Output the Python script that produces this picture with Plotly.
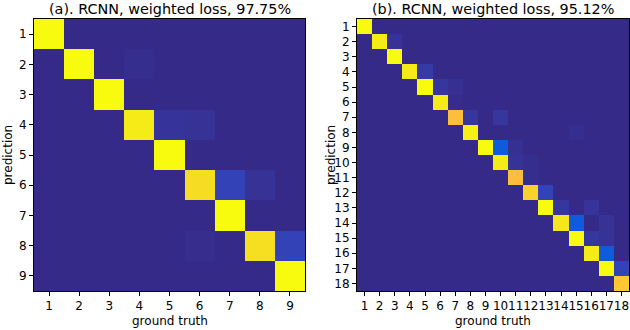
import plotly.graph_objects as go

# parula colormap (MATLAB's 64 levels)
PARULA = [
    [0.2081, 0.1663, 0.5292], [0.2116, 0.1898, 0.5777], [0.2123, 0.2138, 0.6270],
    [0.2081, 0.2386, 0.6771], [0.1959, 0.2645, 0.7279], [0.1707, 0.2919, 0.7792],
    [0.1253, 0.3242, 0.8303], [0.0591, 0.3598, 0.8683], [0.0117, 0.3875, 0.8820],
    [0.0060, 0.4086, 0.8828], [0.0165, 0.4266, 0.8786], [0.0329, 0.4430, 0.8720],
    [0.0498, 0.4586, 0.8641], [0.0629, 0.4737, 0.8554], [0.0723, 0.4887, 0.8467],
    [0.0779, 0.5040, 0.8384], [0.0793, 0.5200, 0.8312], [0.0749, 0.5375, 0.8263],
    [0.0641, 0.5570, 0.8240], [0.0488, 0.5772, 0.8228], [0.0343, 0.5966, 0.8199],
    [0.0265, 0.6137, 0.8135], [0.0239, 0.6287, 0.8038], [0.0231, 0.6418, 0.7913],
    [0.0228, 0.6535, 0.7768], [0.0267, 0.6642, 0.7607], [0.0384, 0.6743, 0.7436],
    [0.0590, 0.6838, 0.7254], [0.0843, 0.6928, 0.7062], [0.1133, 0.7015, 0.6859],
    [0.1453, 0.7098, 0.6646], [0.1801, 0.7177, 0.6424], [0.2178, 0.7250, 0.6193],
    [0.2586, 0.7317, 0.5954], [0.3022, 0.7376, 0.5712], [0.3482, 0.7424, 0.5473],
    [0.3953, 0.7459, 0.5244], [0.4420, 0.7481, 0.5033], [0.4871, 0.7491, 0.4840],
    [0.5300, 0.7491, 0.4661], [0.5709, 0.7485, 0.4494], [0.6099, 0.7473, 0.4337],
    [0.6473, 0.7456, 0.4188], [0.6834, 0.7435, 0.4044], [0.7184, 0.7411, 0.3905],
    [0.7525, 0.7384, 0.3768], [0.7858, 0.7356, 0.3633], [0.8185, 0.7327, 0.3498],
    [0.8507, 0.7299, 0.3360], [0.8824, 0.7274, 0.3217], [0.9139, 0.7258, 0.3063],
    [0.9450, 0.7261, 0.2886], [0.9739, 0.7314, 0.2666], [0.9938, 0.7455, 0.2403],
    [0.9990, 0.7653, 0.2164], [0.9955, 0.7861, 0.1967], [0.9880, 0.8066, 0.1794],
    [0.9789, 0.8271, 0.1633], [0.9697, 0.8481, 0.1475], [0.9626, 0.8705, 0.1309],
    [0.9589, 0.8949, 0.1132], [0.9598, 0.9218, 0.0948], [0.9661, 0.9514, 0.0755],
    [0.9763, 0.9831, 0.0538],
]
colorscale = [
    [i / (len(PARULA) - 1), "rgb(%d,%d,%d)" % tuple(round(c * 255) for c in rgb)]
    for i, rgb in enumerate(PARULA)
]

# (a) 9 classes: rows = prediction, cols = ground truth
labels_a = [str(i) for i in range(1, 10)]
cm_a = [
    [1.00, 0, 0, 0, 0, 0, 0, 0, 0],
    [0, 1.00, 0, 0.010, 0, 0, 0, 0, 0],
    [0, 0, 1.00, 0, 0, 0, 0, 0, 0],
    [0, 0, 0, 0.97, 0.025, 0.020, 0, 0, 0],
    [0, 0, 0, 0, 1.00, 0, 0, 0, 0],
    [0, 0, 0, 0, 0, 0.93, 0.060, 0.020, 0],
    [0, 0, 0, 0, 0, 0, 1.00, 0, 0],
    [0, 0, 0, 0, 0, 0.008, 0, 0.94, 0.060],
    [0, 0, 0, 0, 0, 0, 0, 0, 1.00],
]

# (b) 18 classes
labels_b = [str(i) for i in range(1, 19)]
diag_b = [1.0, 0.97, 1.0, 0.97, 1.0, 0.97, 0.84, 0.98, 1.0,
          0.97, 0.84, 0.90, 1.0, 0.96, 1.0, 0.97, 1.0, 0.87]
offdiag_b = {
    (2, 3): 0.02, (4, 5): 0.04, (5, 6): 0.03, (5, 7): 0.015, (6, 7): 0.005,
    (7, 8): 0.03, (7, 10): 0.03, (8, 15): 0.01, (9, 10): 0.11, (9, 11): 0.015,
    (10, 11): 0.02, (10, 12): 0.01, (11, 12): 0.01, (12, 13): 0.06,
    (13, 14): 0.03, (13, 16): 0.025, (14, 15): 0.11, (14, 17): 0.02,
    (15, 16): 0.03, (15, 17): 0.02, (16, 17): 0.11, (17, 18): 0.06,
}
cm_b = [[0.0] * 18 for _ in range(18)]
for i, v in enumerate(diag_b):
    cm_b[i][i] = v
for (r, c), v in offdiag_b.items():
    cm_b[r - 1][c - 1] = v

titles = ["(a). RCNN, weighted loss, 97.75%", "(b). RCNN, weighted loss, 95.12%"]

W, H = 630, 330
FONT = "DejaVu Sans"

fig = go.Figure()
fig.add_trace(go.Heatmap(z=cm_a, x=list(range(1, 10)), y=list(range(1, 10)),
                         colorscale=colorscale, zmin=0, zmax=1, showscale=False,
                         xaxis="x", yaxis="y"))
fig.add_trace(go.Heatmap(z=cm_b, x=list(range(1, 19)), y=list(range(1, 19)),
                         colorscale=colorscale, zmin=0, zmax=1, showscale=False,
                         xaxis="x2", yaxis="y2"))

axis_common = dict(
    showline=True, mirror=True, linecolor="black", linewidth=1,
    ticks="outside", ticklen=4, tickwidth=1, tickcolor="black",
    showgrid=False, zeroline=False, tickangle=0,
    tickfont=dict(family=FONT, size=12, color="black"),
)
ydom = [1 - 291 / H, 1 - 19 / H]
fig.update_layout(
    width=W, height=H,
    margin=dict(l=0, r=0, t=0, b=0),
    paper_bgcolor="white", plot_bgcolor="white",
    xaxis=dict(domain=[34 / W, 305 / W], range=[0.5, 9.5], anchor="y",
               tickmode="array", tickvals=list(range(1, 10)), ticktext=labels_a,
               **axis_common),
    yaxis=dict(domain=ydom, range=[9.5, 0.5], anchor="x",
               tickmode="array", tickvals=list(range(1, 10)), ticktext=labels_a,
               **axis_common),
    xaxis2=dict(domain=[357 / W, 629 / W], range=[0.5, 18.5], anchor="y2",
                tickmode="array", tickvals=list(range(1, 19)), ticktext=labels_b,
                **axis_common),
    yaxis2=dict(domain=ydom, range=[18.5, 0.5], anchor="x2",
                tickmode="array", tickvals=list(range(1, 19)), ticktext=labels_b,
                **axis_common),
)

annotations = []
for title, (x0, x1) in zip(titles, [(34, 305), (357, 629)]):
    cx = (x0 + x1) / 2 / W
    annotations.append(dict(text=title, x=cx, y=1 - 8.5 / H, xref="paper", yref="paper",
                            showarrow=False, xanchor="center", yanchor="middle",
                            font=dict(family=FONT, size=14.4, color="black")))
    annotations.append(dict(text="ground truth", x=cx, y=1 - 321 / H, xref="paper",
                            yref="paper", showarrow=False, xanchor="center",
                            yanchor="middle",
                            font=dict(family=FONT, size=12, color="black")))
for px_x in [8, 331]:
    annotations.append(dict(text="prediction", x=px_x / W, y=(ydom[0] + ydom[1]) / 2,
                            xref="paper", yref="paper", showarrow=False, textangle=-90,
                            xanchor="center", yanchor="middle",
                            font=dict(family=FONT, size=12, color="black")))
fig.update_layout(annotations=annotations)

# drop the browser's default 8px body margin so the figure sits at the window's corner
fig.write_html("out.html", config={"displayModeBar": False},
               post_script="document.body.style.margin='0';")
